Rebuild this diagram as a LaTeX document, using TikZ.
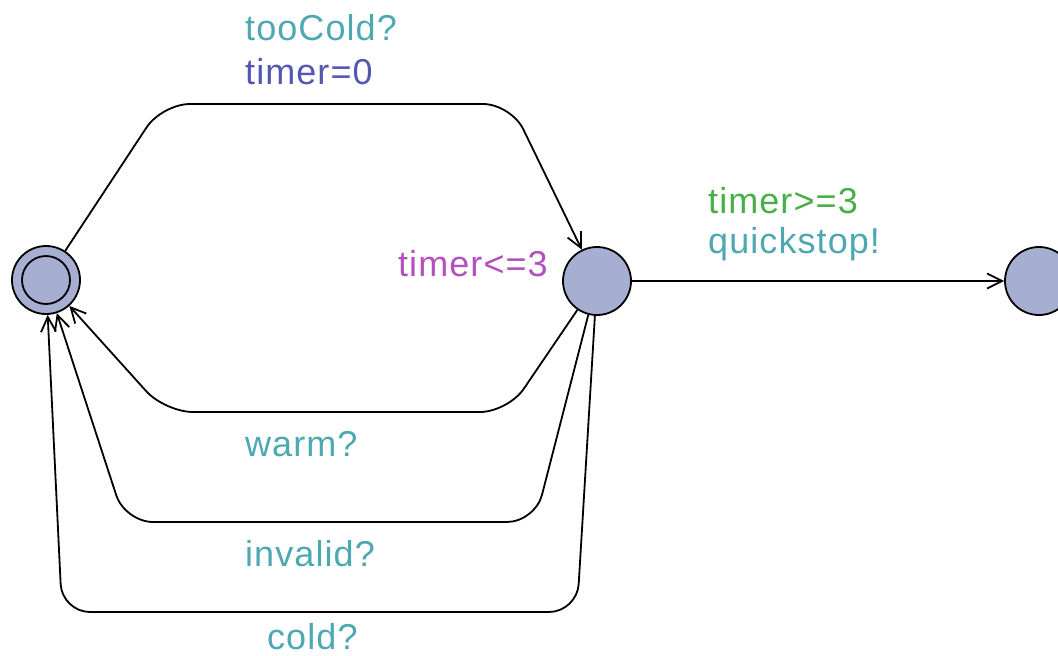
\documentclass[tikz,border=0pt]{standalone}
\usepackage{fontspec}
\setmainfont{Liberation Sans}
\newfontfamily\lblfont[LetterSpace=3]{Liberation Sans}
\usetikzlibrary{arrows.meta}
\definecolor{locfill}{RGB}{166,174,210}
\definecolor{synccol}{RGB}{78,168,178}
\definecolor{assigncol}{RGB}{85,85,180}
\definecolor{invcol}{RGB}{180,80,190}
\definecolor{guardcol}{RGB}{70,175,70}
\tikzset{
  loc/.style={circle, draw=black, fill=locfill, line width=1.8pt, minimum size=68pt, inner sep=0pt},
  edge/.style={line width=1.8pt, rounded corners=28pt, -{Straight Barb[length=15pt,width=15pt,line width=1.8pt]}},
  lbl/.style={inner sep=0pt, anchor=base west, font=\lblfont\fontsize{36}{42}\selectfont},
}
\begin{document}
\begin{tikzpicture}[x=1pt,y=-1pt]
\useasboundingbox (0,0) rectangle (1058,656);
\node[loc] (A) at (46,280) {};
\node[circle, draw=black, line width=1.8pt, minimum size=48pt, inner sep=0pt] (Ai) at (46,280) {};
\node[loc] (B) at (597,281) {};
\node[loc] (C) at (1039,281) {};
\draw[edge] (A) -- (162,104) -- (511,104) -- (B);
\draw[edge] (B) -- (C);
\draw[edge] (B) -- (508,412) -- (165,412) -- (A);
\draw[edge] (B) -- (535,522) -- (125,522) -- (A);
\draw[edge] (B) -- (577,612) -- (62,612) -- (A);
\node[lbl, text=synccol] (l1) at (245,40) {tooCold?};
\node[lbl, text=assigncol] (l2) at (245,84) {timer=0};
\node[lbl, text=invcol, anchor=base east] (l3) at (548,276) {timer<=3};
\node[lbl, text=guardcol] (l4) at (708,213) {timer>=3};
\node[lbl, text=synccol] (l5) at (708,253) {quickstop!};
\node[lbl, text=synccol] (l6) at (245,456) {warm?};
\node[lbl, text=synccol] (l7) at (245,566) {invalid?};
\node[lbl, text=synccol] (l8) at (267,649) {cold?};
\end{tikzpicture}
\end{document}
